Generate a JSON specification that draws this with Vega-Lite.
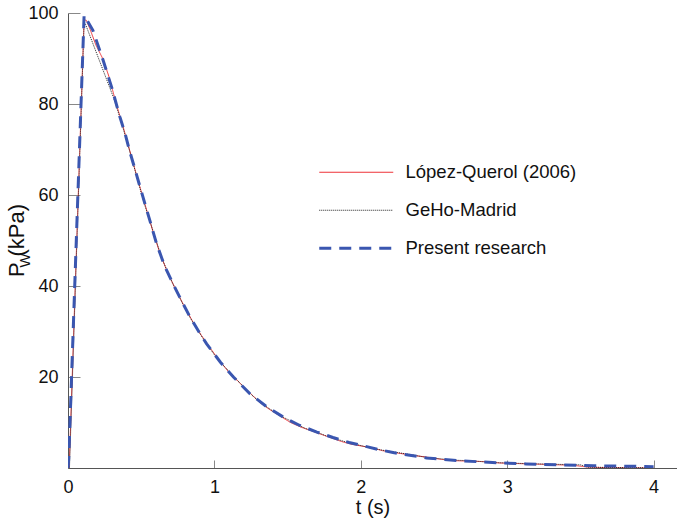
{
  "$schema": "https://vega.github.io/schema/vega-lite/v6.json",
  "width": 609,
  "height": 455,
  "autosize": {"type": "none"},
  "padding": {"left": 68, "top": 13, "right": 0, "bottom": 58},
  "config": {
    "font": "Liberation Sans",
    "view": {"stroke": null},
    "axis": {"grid": false, "domainColor": "#555", "tickColor": "#888", "labelColor": "#111", "titleColor": "#111", "labelFont": "Liberation Sans", "titleFont": "Liberation Sans", "titleFontWeight": "normal"},
    "legend": {"labelFont": "Liberation Sans"}
  },
  "datasets": {
    "curves": [
      {"t": 0, "p": 0, "s": "López-Querol (2006)"},
      {"t": 0.008, "p": 0, "s": "López-Querol (2006)"},
      {"t": 0.11, "p": 98.5, "s": "López-Querol (2006)"},
      {"t": 0.125, "p": 98.4, "s": "López-Querol (2006)"},
      {"t": 0.15, "p": 96.5, "s": "López-Querol (2006)"},
      {"t": 0.19, "p": 93, "s": "López-Querol (2006)"},
      {"t": 0.24, "p": 89.8, "s": "López-Querol (2006)"},
      {"t": 0.28, "p": 86, "s": "López-Querol (2006)"},
      {"t": 0.33, "p": 80, "s": "López-Querol (2006)"},
      {"t": 0.38, "p": 74.6, "s": "López-Querol (2006)"},
      {"t": 0.43, "p": 68.8, "s": "López-Querol (2006)"},
      {"t": 0.48, "p": 63, "s": "López-Querol (2006)"},
      {"t": 0.53, "p": 57.5, "s": "López-Querol (2006)"},
      {"t": 0.58, "p": 52, "s": "López-Querol (2006)"},
      {"t": 0.63, "p": 47, "s": "López-Querol (2006)"},
      {"t": 0.68, "p": 43, "s": "López-Querol (2006)"},
      {"t": 0.73, "p": 39.6, "s": "López-Querol (2006)"},
      {"t": 0.79, "p": 35.8, "s": "López-Querol (2006)"},
      {"t": 0.85, "p": 32.3, "s": "López-Querol (2006)"},
      {"t": 0.91, "p": 29.2, "s": "López-Querol (2006)"},
      {"t": 0.97, "p": 26.4, "s": "López-Querol (2006)"},
      {"t": 1.03, "p": 23.8, "s": "López-Querol (2006)"},
      {"t": 1.1, "p": 21, "s": "López-Querol (2006)"},
      {"t": 1.17, "p": 18.8, "s": "López-Querol (2006)"},
      {"t": 1.24, "p": 16.6, "s": "López-Querol (2006)"},
      {"t": 1.31, "p": 14.4, "s": "López-Querol (2006)"},
      {"t": 1.38, "p": 12.8, "s": "López-Querol (2006)"},
      {"t": 1.45, "p": 11.4, "s": "López-Querol (2006)"},
      {"t": 1.52, "p": 10, "s": "López-Querol (2006)"},
      {"t": 1.59, "p": 9, "s": "López-Querol (2006)"},
      {"t": 1.66, "p": 8.2, "s": "López-Querol (2006)"},
      {"t": 1.73, "p": 7.4, "s": "López-Querol (2006)"},
      {"t": 1.8, "p": 6.6, "s": "López-Querol (2006)"},
      {"t": 1.87, "p": 5.8, "s": "López-Querol (2006)"},
      {"t": 1.94, "p": 5.2, "s": "López-Querol (2006)"},
      {"t": 2.01, "p": 4.8, "s": "López-Querol (2006)"},
      {"t": 2.08, "p": 4.4, "s": "López-Querol (2006)"},
      {"t": 2.15, "p": 3.8, "s": "López-Querol (2006)"},
      {"t": 2.25, "p": 3.3, "s": "López-Querol (2006)"},
      {"t": 2.35, "p": 2.8, "s": "López-Querol (2006)"},
      {"t": 2.45, "p": 2.4, "s": "López-Querol (2006)"},
      {"t": 2.55, "p": 1.9, "s": "López-Querol (2006)"},
      {"t": 2.65, "p": 1.6, "s": "López-Querol (2006)"},
      {"t": 2.75, "p": 1.5, "s": "López-Querol (2006)"},
      {"t": 2.85, "p": 1.4, "s": "López-Querol (2006)"},
      {"t": 2.95, "p": 1.1, "s": "López-Querol (2006)"},
      {"t": 3.05, "p": 1.0, "s": "López-Querol (2006)"},
      {"t": 3.15, "p": 0.9, "s": "López-Querol (2006)"},
      {"t": 3.25, "p": 0.8, "s": "López-Querol (2006)"},
      {"t": 3.35, "p": 0.7, "s": "López-Querol (2006)"},
      {"t": 3.45, "p": 0.6, "s": "López-Querol (2006)"},
      {"t": 3.55, "p": 0.2, "s": "López-Querol (2006)"},
      {"t": 3.65, "p": 0.1, "s": "López-Querol (2006)"},
      {"t": 4.0, "p": 0, "s": "López-Querol (2006)"},

      {"t": 0, "p": 0, "s": "GeHo-Madrid"},
      {"t": 0.01, "p": 0, "s": "GeHo-Madrid"},
      {"t": 0.11, "p": 98, "s": "GeHo-Madrid"},
      {"t": 0.12, "p": 97.5, "s": "GeHo-Madrid"},
      {"t": 0.31, "p": 81.5, "s": "GeHo-Madrid"},
      {"t": 0.36, "p": 76.5, "s": "GeHo-Madrid"},
      {"t": 0.42, "p": 69.8, "s": "GeHo-Madrid"},
      {"t": 0.47, "p": 64, "s": "GeHo-Madrid"},
      {"t": 0.52, "p": 58.2, "s": "GeHo-Madrid"},
      {"t": 0.58, "p": 52.2, "s": "GeHo-Madrid"},
      {"t": 0.64, "p": 46.2, "s": "GeHo-Madrid"},
      {"t": 0.7, "p": 41.6, "s": "GeHo-Madrid"},
      {"t": 0.76, "p": 37.6, "s": "GeHo-Madrid"},
      {"t": 0.82, "p": 33.8, "s": "GeHo-Madrid"},
      {"t": 0.88, "p": 30.6, "s": "GeHo-Madrid"},
      {"t": 0.94, "p": 27.6, "s": "GeHo-Madrid"},
      {"t": 1.0, "p": 24.9, "s": "GeHo-Madrid"},
      {"t": 1.06, "p": 22.6, "s": "GeHo-Madrid"},
      {"t": 1.13, "p": 20.2, "s": "GeHo-Madrid"},
      {"t": 1.2, "p": 17.8, "s": "GeHo-Madrid"},
      {"t": 1.27, "p": 15.6, "s": "GeHo-Madrid"},
      {"t": 1.34, "p": 13.8, "s": "GeHo-Madrid"},
      {"t": 1.41, "p": 12.3, "s": "GeHo-Madrid"},
      {"t": 1.48, "p": 11, "s": "GeHo-Madrid"},
      {"t": 1.55, "p": 9.9, "s": "GeHo-Madrid"},
      {"t": 1.62, "p": 8.7, "s": "GeHo-Madrid"},
      {"t": 1.69, "p": 8.0, "s": "GeHo-Madrid"},
      {"t": 1.76, "p": 7.1, "s": "GeHo-Madrid"},
      {"t": 1.83, "p": 6.4, "s": "GeHo-Madrid"},
      {"t": 1.9, "p": 5.7, "s": "GeHo-Madrid"},
      {"t": 1.97, "p": 5.2, "s": "GeHo-Madrid"},
      {"t": 2.05, "p": 4.5, "s": "GeHo-Madrid"},
      {"t": 2.15, "p": 3.9, "s": "GeHo-Madrid"},
      {"t": 2.25, "p": 3.4, "s": "GeHo-Madrid"},
      {"t": 2.35, "p": 2.9, "s": "GeHo-Madrid"},
      {"t": 2.45, "p": 2.3, "s": "GeHo-Madrid"},
      {"t": 2.55, "p": 2.0, "s": "GeHo-Madrid"},
      {"t": 2.65, "p": 1.7, "s": "GeHo-Madrid"},
      {"t": 2.75, "p": 1.6, "s": "GeHo-Madrid"},
      {"t": 2.9, "p": 1.2, "s": "GeHo-Madrid"},
      {"t": 3.05, "p": 1.05, "s": "GeHo-Madrid"},
      {"t": 3.2, "p": 0.9, "s": "GeHo-Madrid"},
      {"t": 3.35, "p": 0.8, "s": "GeHo-Madrid"},
      {"t": 3.5, "p": 0.7, "s": "GeHo-Madrid"},
      {"t": 3.55, "p": 0.2, "s": "GeHo-Madrid"},
      {"t": 3.7, "p": 0.1, "s": "GeHo-Madrid"},
      {"t": 4.0, "p": 0.05, "s": "GeHo-Madrid"},

      {"t": 0, "p": 0, "s": "Present research"},
      {"t": 0.005, "p": 2, "s": "Present research"},
      {"t": 0.11, "p": 99.5, "s": "Present research"},
      {"t": 0.17, "p": 96.2, "s": "Present research"},
      {"t": 0.24, "p": 89.6, "s": "Present research"},
      {"t": 0.3, "p": 83.5, "s": "Present research"},
      {"t": 0.355, "p": 77.1, "s": "Present research"},
      {"t": 0.39, "p": 73.5, "s": "Present research"},
      {"t": 0.42, "p": 69.8, "s": "Present research"},
      {"t": 0.457, "p": 65.7, "s": "Present research"},
      {"t": 0.49, "p": 62.0, "s": "Present research"},
      {"t": 0.537, "p": 56.8, "s": "Present research"},
      {"t": 0.56, "p": 54.3, "s": "Present research"},
      {"t": 0.605, "p": 49.3, "s": "Present research"},
      {"t": 0.66, "p": 44.4, "s": "Present research"},
      {"t": 0.72, "p": 40.3, "s": "Present research"},
      {"t": 0.775, "p": 36.8, "s": "Present research"},
      {"t": 0.83, "p": 33.4, "s": "Present research"},
      {"t": 0.9, "p": 29.6, "s": "Present research"},
      {"t": 0.947, "p": 27.3, "s": "Present research"},
      {"t": 1.04, "p": 23.3, "s": "Present research"},
      {"t": 1.13, "p": 20.0, "s": "Present research"},
      {"t": 1.24, "p": 16.4, "s": "Present research"},
      {"t": 1.36, "p": 13.4, "s": "Present research"},
      {"t": 1.47, "p": 11.2, "s": "Present research"},
      {"t": 1.58, "p": 9.4, "s": "Present research"},
      {"t": 1.7, "p": 7.9, "s": "Present research"},
      {"t": 1.81, "p": 6.7, "s": "Present research"},
      {"t": 1.92, "p": 5.6, "s": "Present research"},
      {"t": 2.04, "p": 4.7, "s": "Present research"},
      {"t": 2.13, "p": 4.0, "s": "Present research"},
      {"t": 2.22, "p": 3.4, "s": "Present research"},
      {"t": 2.45, "p": 2.2, "s": "Present research"},
      {"t": 2.68, "p": 1.6, "s": "Present research"},
      {"t": 2.9, "p": 1.2, "s": "Present research"},
      {"t": 3.13, "p": 0.9, "s": "Present research"},
      {"t": 3.36, "p": 0.7, "s": "Present research"},
      {"t": 3.59, "p": 0.5, "s": "Present research"},
      {"t": 3.81, "p": 0.4, "s": "Present research"},
      {"t": 4.0, "p": 0.3, "s": "Present research"}
    ]
  },
  "data": {"name": "curves"},
  "layer": [
    {
      "mark": {"type": "line", "clip": true},
      "encoding": {
        "x": {"field": "t", "type": "quantitative", "scale": {"domain": [0, 4.16], "nice": false, "zero": false},
          "axis": {"values": [0, 1, 2, 3, 4], "title": "t (s)", "titleFontSize": 20, "titlePadding": 1, "labelFontSize": 18, "tickSize": -8, "labelPadding": 18, "labelFlush": false, "format": "d"}},
        "y": {"field": "p", "type": "quantitative", "scale": {"domain": [0, 100], "nice": false},
          "axis": {"values": [20, 40, 60, 80, 100], "title": "P  (kPa)", "titleFontSize": 22, "labelFontSize": 18, "tickSize": -12, "labelPadding": 22, "titleX": -45, "titleY": 227, "titleAngle": -90, "titleBaseline": "alphabetic", "titleAlign": "center"}},
        "color": {"field": "s", "type": "nominal", "title": null,
          "scale": {"domain": ["López-Querol (2006)", "GeHo-Madrid", "Present research"], "range": ["#ee3338", "#222222", "#3a56b0"]},
          "legend": {"orient": "none", "legendX": 279, "legendY": 150, "symbolType": "stroke", "symbolSize": 5476, "labelFontSize": 18.5, "labelOffset": 40, "labelLimit": 0, "rowPadding": 19, "labelColor": "#111",
            "encode": {"symbols": {"update": {"strokeWidth": {"signal": "datum.value === 'Present research' ? 3 : 1.2"}}}}}},
        "strokeDash": {"field": "s", "type": "nominal", "title": null,
          "scale": {"domain": ["López-Querol (2006)", "GeHo-Madrid", "Present research"], "range": [[1, 0], [1, 1], [12, 8]]}},
        "strokeWidth": {"condition": {"test": "datum.s === 'Present research'", "value": 3}, "value": 1}
      }
    },
    {
      "mark": {"type": "line", "opacity": 0},
      "encoding": {
        "x": {"field": "t", "type": "quantitative"},
        "y": {"field": "p", "type": "quantitative", "scale": {"domain": [0, 100], "nice": false},
          "axis": {"orient": "left", "title": "W", "titleFontSize": 15, "labels": false, "ticks": false, "domain": false, "titleX": -39, "titleY": 247, "titleAngle": -90, "titleBaseline": "alphabetic", "titleAlign": "center"}}
      }
    }
  ],
  "resolve": {"scale": {"y": "independent"}}
}
